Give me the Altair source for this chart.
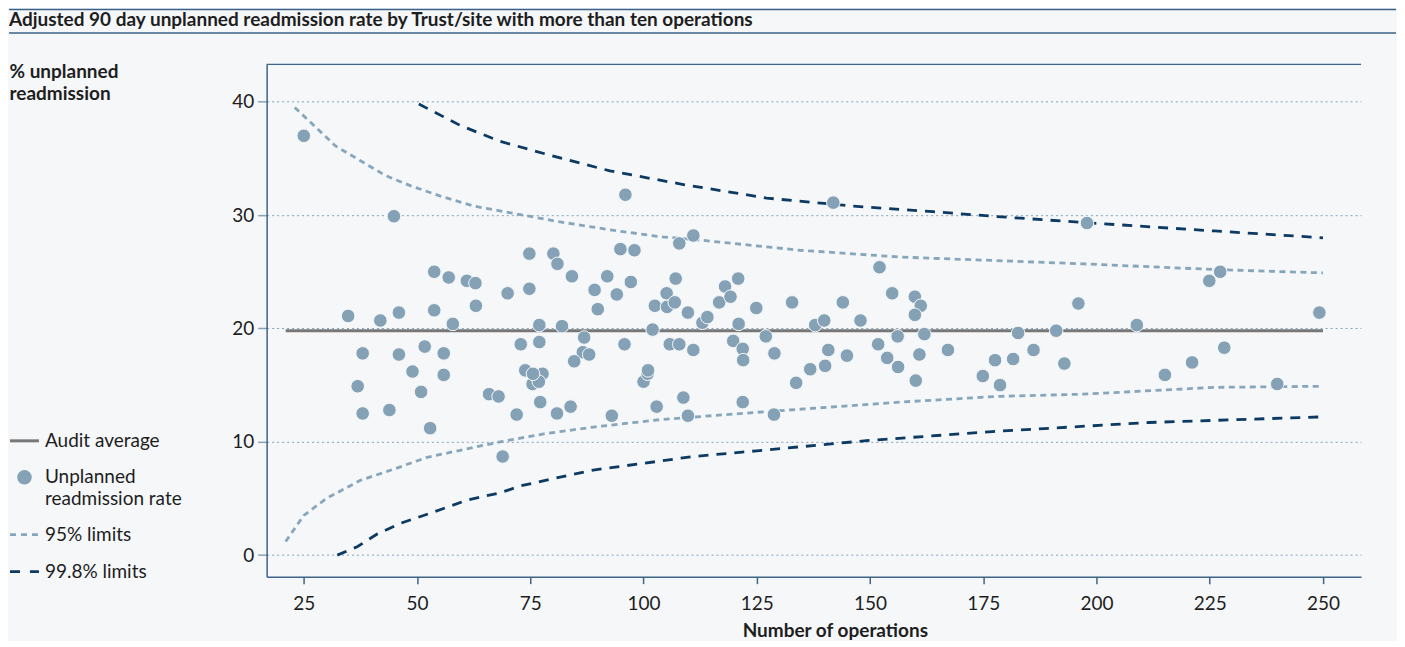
import altair as alt
import pandas as pd

# ---------------- data ----------------
TITLE = "Adjusted 90 day unplanned readmission rate by Trust/site with more than ten operations"
SERIES = ["Audit average", "Unplanned readmission rate", "95% limits", "99.8% limits"]
X_TICKS = [25, 50, 75, 100, 125, 150, 175, 200, 225, 250]
Y_TICKS = [0, 10, 20, 30, 40]

# Trust/site points: number of operations, % unplanned readmission
ops = [25.0, 44.9, 96.0, 141.9, 197.9, 74.8, 80.1, 81.0, 84.2, 94.9,
       98.0, 107.9, 111.0, 53.8, 57.0, 61.0, 62.9, 70.0, 74.8, 89.2,
       92.0, 94.1, 97.2, 89.9, 102.5, 34.8, 41.9, 46.0, 53.8, 63.0,
       57.9, 38.0, 46.0, 51.7, 55.9, 49.0, 55.9, 36.9, 50.9, 38.0,
       43.9, 52.9, 65.9, 68.0, 68.9, 72.0, 72.9, 77.0, 77.0, 73.9,
       77.7, 75.5, 76.9, 75.6, 77.2, 80.9, 83.9, 82.0, 86.9, 86.6,
       88.0, 84.7, 95.8, 93.0, 100.0, 100.9, 101.0, 102.9, 102.0, 107.1,
       105.1, 105.2, 106.9, 109.8, 105.8, 107.9, 111.0, 113.0, 114.1, 116.7,
       118.0, 119.2, 120.9, 121.0, 119.8, 121.9, 122.0, 124.9, 127.0, 128.9,
       132.8, 133.7, 136.8, 137.9, 139.9, 140.8, 140.1, 144.0, 144.9, 147.9,
       152.1, 154.9, 151.8, 156.1, 153.8, 156.2, 159.9, 161.2, 159.9, 162.0,
       160.9, 160.1, 167.2, 174.9, 177.6, 178.7, 108.8, 109.8, 121.9, 128.8,
       227.3, 224.9, 196.0, 249.2, 208.9, 191.1, 182.7, 186.1, 228.2, 181.6,
       192.9, 221.1, 215.1, 239.9]
rate = [37.0, 29.9, 31.8, 31.1, 29.3, 26.6, 26.6, 25.7, 24.6, 27.0,
        26.9, 27.5, 28.2, 25.0, 24.5, 24.2, 24.0, 23.1, 23.5, 23.4,
        24.6, 23.0, 24.1, 21.7, 22.0, 21.1, 20.7, 21.4, 21.6, 22.0,
        20.4, 17.8, 17.7, 18.4, 17.8, 16.2, 15.9, 14.9, 14.4, 12.5,
        12.8, 11.2, 14.2, 14.0, 8.7, 12.4, 18.6, 20.3, 18.8, 16.3,
        16.0, 15.1, 15.3, 16.0, 13.5, 12.5, 13.1, 20.2, 19.2, 17.9,
        17.7, 17.1, 18.6, 12.3, 15.3, 16.0, 16.3, 13.1, 19.9, 24.4,
        23.1, 21.9, 22.3, 21.4, 18.6, 18.6, 18.1, 20.5, 21.0, 22.3,
        23.7, 22.8, 24.4, 20.4, 18.9, 18.2, 17.2, 21.8, 19.3, 17.8,
        22.3, 15.2, 16.4, 20.3, 20.7, 18.1, 16.7, 22.3, 17.6, 20.7,
        25.4, 23.1, 18.6, 19.3, 17.4, 16.6, 22.8, 22.0, 21.2, 19.5,
        17.7, 15.4, 18.1, 15.8, 17.2, 15.0, 13.9, 12.3, 13.5, 12.4,
        25.0, 24.2, 22.2, 21.4, 20.3, 19.8, 19.6, 18.1, 18.3, 17.3,
        16.9, 17.0, 15.9, 15.1]

# audit average line
audit_n = [21, 250]
audit_v = [19.8, 19.8]

# funnel limits
u95_n = [23, 27, 32, 37.5, 43, 48.5, 55, 62.5, 72, 81.6, 92.6, 103.6, 112.4, 134.5, 156.6, 177, 197, 226, 250]
u95_v = [39.5, 38.0, 36.1, 34.8, 33.5, 32.6, 31.7, 30.8, 30.1, 29.4, 28.7, 28.1, 27.8, 26.9, 26.3, 26.0, 25.7, 25.2, 24.9]
l95_n = [21, 25, 30, 37.5, 45, 52, 59.5, 68.4, 78, 89, 103.6, 125, 156.6, 178, 197, 226, 250]
l95_v = [1.2, 3.5, 5.0, 6.6, 7.6, 8.6, 9.25, 10.0, 10.7, 11.3, 11.95, 12.6, 13.5, 14.0, 14.2, 14.8, 14.9]
u998_n = [50.4, 59.6, 68.4, 80.1, 92.6, 108.8, 127.2, 146.2, 163.9, 177, 197, 226, 250]
u998_v = [39.8, 37.9, 36.5, 35.2, 33.9, 32.7, 31.5, 30.8, 30.3, 29.9, 29.35, 28.6, 28.0]
l998_n = [32.4, 36.8, 41.2, 46.3, 53.7, 61.0, 68.4, 72.8, 80.1, 88.9, 100, 111, 125, 149.2, 177, 211.6, 250]
l998_v = [0.0, 0.74, 1.86, 2.8, 3.8, 4.85, 5.5, 6.1, 6.75, 7.5, 8.1, 8.7, 9.2, 10.1, 10.9, 11.7, 12.2]

# ---------------- styling ----------------
BG = "#f5f7f9"
AXIS_C = "#3f6489"
GRID_C = "#87a3ba"
COLORS = ["#777777", "#84a1b5", "#88a6bb", "#0c3a62"]
DASH95 = [6, 4.5]
DASH998 = [10, 8]
FONT = "Lato"
FS = 19
TXT = "#1e1e1e"
W, H = 1096, 513
LEFT = 258

pts = pd.DataFrame({"n": ops, "v": rate, "series": SERIES[1]})
audit = pd.DataFrame({"n": [audit_n[0]], "n2": [audit_n[1]], "v": [audit_v[0]], "series": SERIES[0]})
frames = []
for nn, vv, s, b in [(u95_n, u95_v, SERIES[2], "u95"), (l95_n, l95_v, SERIES[2], "l95"),
                     (u998_n, u998_v, SERIES[3], "u998"), (l998_n, l998_v, SERIES[3], "l998")]:
    frames.append(pd.DataFrame({"n": nn, "v": vv, "series": s, "bound": b}))
limits = pd.concat(frames, ignore_index=True)

xscale = alt.Scale(domain=[16.8, 258.4], nice=False, zero=False)
yscale = alt.Scale(domain=[-1.9, 43.3], nice=False, zero=False)
cscale = alt.Scale(domain=SERIES, range=COLORS)

xaxis = alt.Axis(values=X_TICKS, grid=False, tickSize=7, tickColor=AXIS_C, tickWidth=1.5,
                 domainColor=AXIS_C, domainWidth=1.5, labelFont=FONT, labelFontSize=FS,
                 labelColor=TXT, labelPadding=11, title="Number of operations",
                 titleFont=FONT, titleFontSize=FS, titleFontWeight="bold", titleColor=TXT,
                 titleX=569, titleY=54, titleBaseline="middle", titleAnchor="middle")
yaxis = alt.Axis(values=Y_TICKS, grid=True, gridColor=GRID_C, gridDash=[2, 3], gridWidth=1,
                 tickSize=9, tickColor=GRID_C, tickWidth=1.5, domainColor=AXIS_C, domainWidth=1.5,
                 labelFont=FONT, labelFontSize=FS, labelColor=TXT, labelPadding=4,
                 title=["% unplanned", "readmission"], titleFont=FONT, titleFontSize=FS,
                 titleFontWeight="bold", titleColor=TXT, titleAngle=0, titleAlign="left",
                 titleBaseline="top", titleX=-LEFT, titleY=-2, titleLineHeight=22)

one = pd.DataFrame({"k": [0]})


def rule(x1, x2, y, color, width, dash=None):
    kw = dict(color=color, strokeWidth=width)
    if dash:
        kw["strokeDash"] = dash
    return alt.Chart(one).mark_rule(**kw).encode(x=alt.value(x1), x2=alt.value(x2), y=alt.value(y))


def label(x, y, text, size=FS, weight="normal", line_h=22):
    return alt.Chart(one).mark_text(align="left", baseline="middle", font=FONT, fontSize=size,
                                    fontWeight=weight, color=TXT, lineHeight=line_h).encode(
        x=alt.value(x), y=alt.value(y), text=alt.value(text))


# header bars + title
decor = [
    rule(-LEFT, W + 35, -55, "#3a6186", 1.5),
    rule(-LEFT, W + 35, -31.5, "#3a6186", 1.5),
    label(-LEFT, -44, TITLE, size=FS, weight="bold"),
    rule(0, W, 0, AXIS_C, 1.5),  # top frame of plot
]

# hand-built legend
LX0, LX1, LT = -LEFT + 1, -LEFT + 30, -LEFT + 36
legend_layers = [
    rule(LX0, LX1, 377, COLORS[0], 3),
    alt.Chart(one).mark_circle(size=210, opacity=1, color=COLORS[1]).encode(
        x=alt.value((LX0 + LX1) / 2), y=alt.value(413.5)),
    rule(LX0, LX1, 471, COLORS[2], 2.8, [6, 5]),
    rule(LX0, LX1, 508, COLORS[3], 2.8, [10, 10]),
    label(LT, 377, SERIES[0]),
    label(LT, 413.5, ["Unplanned", "readmission rate"]),
    label(LT, 471, SERIES[2]),
    label(LT, 508, SERIES[3]),
]

audit_rule = alt.Chart(audit).mark_rule(strokeWidth=3).encode(
    x=alt.X("n:Q", scale=xscale, axis=xaxis),
    x2="n2:Q",
    y=alt.Y("v:Q", scale=yscale, axis=yaxis),
    color=alt.Color("series:N", scale=cscale, legend=None),
)

lines = alt.Chart(limits).mark_line(strokeWidth=2.8).encode(
    x=alt.X("n:Q", scale=xscale, axis=xaxis),
    y=alt.Y("v:Q", scale=yscale, axis=yaxis),
    color=alt.Color("series:N", scale=cscale, legend=None),
    strokeDash=alt.StrokeDash("series:N", scale=alt.Scale(domain=SERIES[2:], range=[DASH95, DASH998]), legend=None),
    detail="bound:N",
    order="n:Q",
)

points = alt.Chart(pts).mark_circle(size=185, opacity=1, stroke=BG, strokeWidth=1).encode(
    x=alt.X("n:Q", scale=xscale, axis=xaxis),
    y=alt.Y("v:Q", scale=yscale, axis=yaxis),
    color=alt.Color("series:N", scale=cscale, legend=None),
)

chart = alt.layer(lines, audit_rule, points, *decor, *legend_layers).properties(
    width=W, height=H, padding=0, background=BG
).configure_view(stroke=None)

chart.save("out.html", embed_options={"renderer": "svg", "actions": False})
